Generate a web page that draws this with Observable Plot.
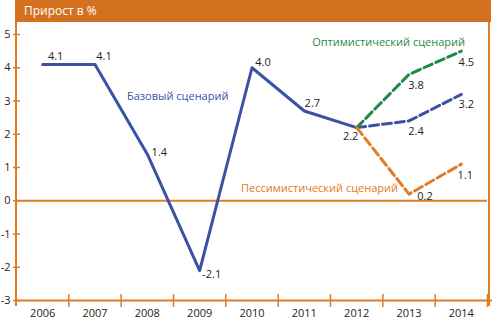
<!DOCTYPE html>
<html>
<head>
<meta charset="utf-8">
<script src="https://cdn.jsdelivr.net/npm/d3@7"></script>
<script src="https://cdn.jsdelivr.net/npm/@observablehq/plot@0.6"></script>
<style>
  html, body { margin: 0; padding: 0; background: #fff; }
  #wrap { position: relative; width: 492px; height: 324px; font-family: "Open Sans", sans-serif; }
  #frame { position: absolute; left: 15px; top: 0; width: 471px; height: 306px;
           border-left: 2px solid #e07b26; border-right: 2px solid #e07b26; box-sizing: content-box; pointer-events: none; }
  #header { position: absolute; left: 15px; top: 0; width: 476px; height: 22px; background: #d4711f;
            color: #fff; font-size: 12px; line-height: 22px; padding-left: 9px; box-sizing: border-box; }
</style>
</head>
<body>
<div id="wrap">
  <div id="chart"></div>
  <div id="frame"></div>
  <div id="header">Прирост в %</div>
</div>
<script>
// ---- data ----
const years = [2006, 2007, 2008, 2009, 2010, 2011, 2012, 2013, 2014];
const baseValues = [4.1, 4.1, 1.4, -2.1, 4.0, 2.7, 2.2, 2.4, 3.2];
const scenarioYears = [2012, 2013, 2014];
const optimisticValues = [2.2, 3.8, 4.5];
const pessimisticValues = [2.2, 0.2, 1.1];
const yTicks = [-3, -2, -1, 0, 1, 2, 3, 4, 5];
const forecastStart = 2012;
const seriesNames = { base: "Базовый сценарий", opt: "Оптимистический сценарий", pess: "Пессимистический сценарий" };

// ---- layout / style (kept separate from data) ----
const C = { blue: "#3a52a3", green: "#1f8a46", orange: "#e07b26", axis: "#e07b26", text: "#231f20" };
const baseLabelOffsets = [[13,-8],[9,-8],[12,-2],[12,4],[11,-5],[8,-8],[-6,9],[7,11],[5,10]];
const optLabelOffsets = [null,[7,11],[5,11]];
const pessLabelOffsets = [null,[16,2],[4,11]];

const base = years.map((x, i) => ({x, v: baseValues[i]}));
const baseSolid = base.filter(d => d.x <= forecastStart);
const baseDash = base.filter(d => d.x >= forecastStart);
const opt = scenarioYears.map((x, i) => ({x, v: optimisticValues[i]}));
const pess = scenarioYears.map((x, i) => ({x, v: pessimisticValues[i]}));

const labels = [];
base.forEach((d, i) => labels.push({...d, off: baseLabelOffsets[i]}));
opt.forEach((d, i) => { if (optLabelOffsets[i]) labels.push({...d, off: optLabelOffsets[i]}); });
pess.forEach((d, i) => { if (pessLabelOffsets[i]) labels.push({...d, off: pessLabelOffsets[i]}); });

const boundaries = years.map(y => y + 0.5);
const fmt = v => v.toFixed(1);
const xLo = years[0] - 0.5, xHi = years[years.length - 1] + 0.5;

const chart = Plot.plot({
  width: 492,
  height: 324,
  marginLeft: 16,
  marginRight: 5,
  marginTop: 34,
  marginBottom: 24,
  style: { fontFamily: "Open Sans, sans-serif", fontSize: "11px", color: C.text, background: "transparent", overflow: "visible" },
  x: { type: "linear", domain: [xLo, xHi], axis: null, label: null },
  y: { domain: [yTicks[0], yTicks[yTicks.length - 1]], axis: null, label: null },
  marks: [
    Plot.ruleY([0], { stroke: C.axis, strokeWidth: 2 }),
    Plot.ruleY([yTicks[0]], { x1: xLo, x2: xHi + 0.1, stroke: C.axis, strokeWidth: 2 }),
    Plot.axisY(yTicks, { label: null, tickSize: 7, dx: 4, tickPadding: 3, stroke: C.axis, strokeWidth: 1.5, fill: C.text, fontSize: 11, tickFormat: d => String(d) }),
    Plot.axisX(boundaries, { label: null, tickSize: 13, dy: -6, stroke: C.axis, strokeWidth: 1.5, tickFormat: () => "" }),
    Plot.axisX(years, { label: null, tickSize: 0, tickPadding: 9, fill: C.text, fontSize: 11, tickFormat: d => String(d) }),
    Plot.line(baseSolid, { x: "x", y: "v", stroke: C.blue, strokeWidth: 3 }),
    Plot.line(baseDash, { x: "x", y: "v", stroke: C.blue, strokeWidth: 3, strokeDasharray: "9,4" }),
    Plot.line(opt, { x: "x", y: "v", stroke: C.green, strokeWidth: 3, strokeDasharray: "9,4" }),
    Plot.line(pess, { x: "x", y: "v", stroke: C.orange, strokeWidth: 3, strokeDasharray: "9,4" }),
    ...labels.map(l => Plot.text([l], { x: "x", y: "v", text: d => fmt(d.v), dx: l.off[0], dy: l.off[1], fill: C.text, fontSize: 11 })),
    Plot.text([seriesNames.base], { x: 2008.58, y: 3.13, text: d => d, fill: C.blue, fontSize: 11 }),
    Plot.text([seriesNames.opt], { x: 2012.61, y: 4.75, text: d => d, fill: C.green, fontSize: 11 }),
    Plot.text([seriesNames.pess], { x: 2011.29, y: 0.36, text: d => d, fill: C.orange, fontSize: 11 })
  ]
});
document.getElementById("chart").appendChild(chart);
</script>
</body>
</html>
